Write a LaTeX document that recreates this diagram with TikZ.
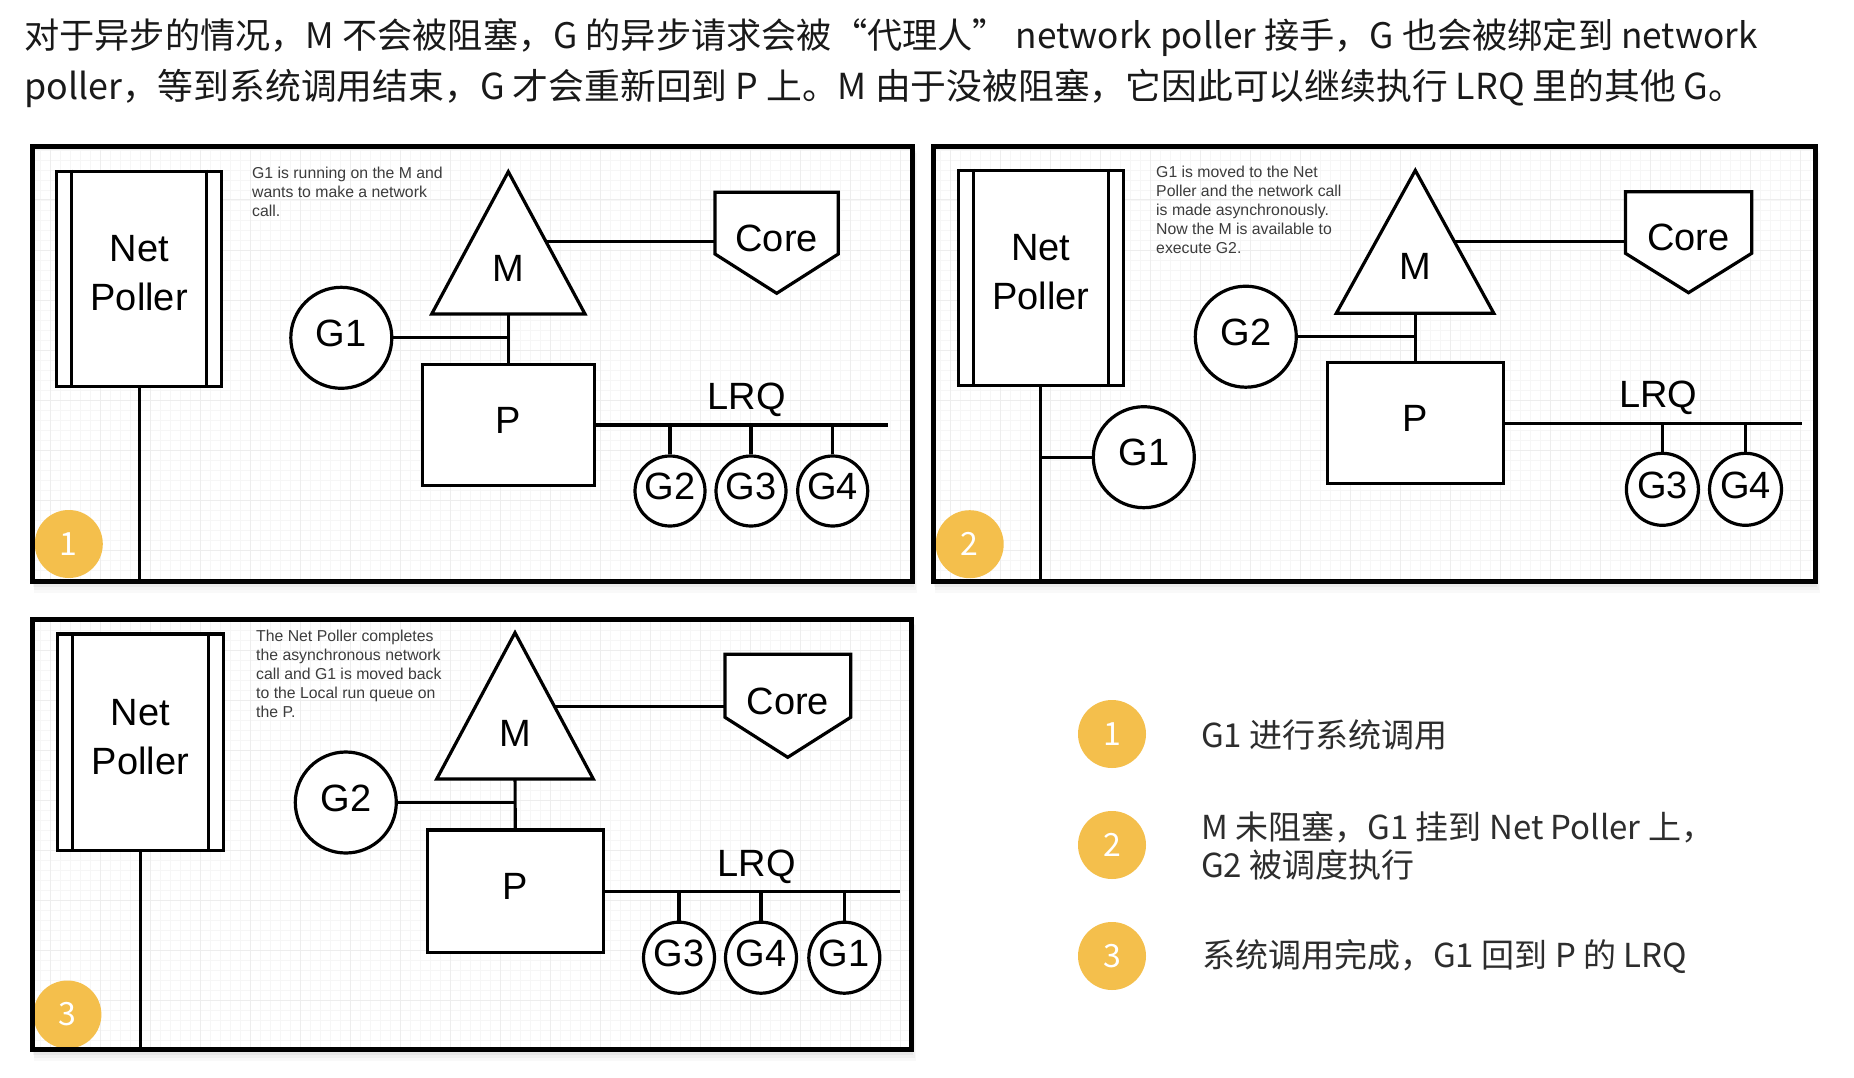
\documentclass[tikz,border=0pt]{standalone}
\usepackage{fontspec}
\setmainfont{Liberation Sans}
\newfontfamily\cjk{Noto Sans CJK SC}
\usetikzlibrary{calc}
\definecolor{badgeY}{RGB}{244,191,76}
\definecolor{annoC}{RGB}{60,60,60}
\definecolor{gridminor}{RGB}{246,246,246}
\definecolor{gridmajor}{RGB}{237,237,237}
\definecolor{topC}{RGB}{25,25,25}
\definecolor{legC}{RGB}{45,45,45}
\pgfdeclarelayer{bg}
\pgfdeclarelayer{wires}
\pgfsetlayers{bg,wires,main}
\newcommand\lblfont{\fontsize{38}{46}\selectfont}
\newcommand\npfont{\fontsize{38}{49}\selectfont}
\newcommand\annofont{\fontsize{15.8}{19}\selectfont}
\newcommand\topfontA{\cjk\fontsize{35.2}{51}\selectfont}
\newcommand\topfontB{\cjk\fontsize{35.8}{51}\selectfont}
\newcommand\legfont{\cjk\fontsize{33}{38.3}\selectfont}
\newcommand\badgefont{\cjk\fontsize{32}{32}\selectfont}
\tikzset{
  shp/.style={draw=black, line width=3.2pt, fill=white, line join=miter},
  wire/.style={draw=black, line width=3.2pt},
  gbig/.style={circle, shp, minimum size=101pt, inner sep=0pt, font=\lblfont, text depth=9pt},
  gsmall/.style={circle, shp, minimum size=70pt, inner sep=0pt, font=\lblfont, text depth=9pt},
  pbox/.style={rectangle, shp, minimum width=172pt, minimum height=121pt, inner sep=0pt, font=\lblfont, text depth=9pt},
  npbox/.style={rectangle, shp, minimum width=165pt, minimum height=215pt, inner sep=0pt},
  nptext/.style={font=\npfont, align=center, inner sep=0pt},
  lbl/.style={font=\lblfont, inner sep=0pt},
  anno/.style={font=\annofont, text=annoC, align=left, anchor=north west, inner sep=0pt},
  badgenode/.style={circle, fill=badgeY, minimum size=68pt, inner sep=0pt, text=white, font=\badgefont},
  framebox/.style={draw=black, line width=5pt},
}
\newcommand\panelframe[4]{%
  \begin{pgfonlayer}{bg}
    \foreach \s/\o in {12/0.025, 9/0.03, 6/0.04, 3/0.05} {
      \fill[black, opacity=\o] (#1+\s*0.2, #2+\s*0.5) rectangle (#3+\s*0.4, #4+\s);
    }
    \fill[white] (#1,#2) rectangle (#3,#4);
    \begin{scope}
      \clip (#1,#2) rectangle (#3,#4);
      \draw[gridminor, line width=0.9pt, step=10pt] (#1,#2) grid (#3,#4);
      \draw[gridmajor, line width=1pt, step=50pt] (#1,#2) grid (#3,#4);
    \end{scope}
  \end{pgfonlayer}}
\newcommand\npbars[1]{%
  \draw[line width=3.2pt] ([xshift=16.6pt]#1.north west) -- ([xshift=16.6pt]#1.south west);
  \draw[line width=3.2pt] ([xshift=-16.6pt]#1.north east) -- ([xshift=-16.6pt]#1.south east);}
\begin{document}
\begin{tikzpicture}[x=1pt, y=-1pt]
\useasboundingbox (0,0) rectangle (1854,1078);
\begin{pgfonlayer}{bg}
  \fill[white] (0,0) rectangle (1854,1078);
\end{pgfonlayer}

% ---------- top text ----------
\node[anchor=west, font=\topfontA, text=topC, inner sep=0pt] (H1) at (24,37.5)
  {对于异步的情况，M 不会被阻塞，G 的异步请求会被“代理人” network poller 接手，G 也会被绑定到 network};
\node[anchor=west, font=\topfontB, text=topC, inner sep=0pt] (H2) at (24,88.5)
  {poller，等到系统调用结束，G 才会重新回到 P 上。M 由于没被阻塞，它因此可以继续执行 LRQ 里的其他 G。};

% ================= PANEL 1 =================
\panelframe{32}{147}{912}{581}
\node[npbox] (NP1) at (139.2,278.7) {};
\node[nptext] (NT1) at (139.2,273) {Net\\Poller};
\npbars{NP1}
\coordinate (B1) at (139.2,581);
\node[anno] (A1) at (252,166.7) {G1 is running on the M and\\wants to make a network\\call.};
\draw[shp] (508.3,171.7) -- (585,314) -- (431.7,314) -- cycle;
\node[lbl] (M1) at (508.3,268) {M};
\draw[shp] (715,192.3) -- (838.3,192.3) -- (838.3,254) -- (776.7,293.3) -- (715,254) -- cycle;
\node[lbl] (C1) at (776.7,238.3) {Core};
\coordinate (MC1) at (508.3,241.7);
\node[gbig] (G1a) at (341.3,337.8) {G1};
\node[pbox] (P1) at (508.3,425) {P};
\node[lbl] (LRQ1) at (746.7,400) {LRQ};
\coordinate (E1) at (888.3,425.7);
\node[gsmall] (G2a) at (670,491) {G2};
\node[gsmall] (G3a) at (751,491) {G3};
\node[gsmall] (G4a) at (832.7,491) {G4};
\node[badgenode] (K1) at (68.8,544) {1};
\begin{pgfonlayer}{wires}
  \draw[wire] (NP1) -- (B1);
  \draw[wire] (MC1) -- (MC1 -| C1);
  \draw[wire] (M1) -- (P1);
  \draw[wire] (G1a) -- (G1a -| P1);
  \draw[wire] (P1) -- (P1 -| E1);
  \draw[wire] (G2a) -- (G2a |- P1);
  \draw[wire] (G3a) -- (G3a |- P1);
  \draw[wire] (G4a) -- (G4a |- P1);
\end{pgfonlayer}
\draw[framebox] (32,147) rectangle (912,581);

% ================= PANEL 2 =================
\panelframe{933}{147}{1815}{581}
\node[npbox] (NP2) at (1040.8,277.9) {};
\node[nptext] (NT2) at (1040.8,272.5) {Net\\Poller};
\npbars{NP2}
\coordinate (B2) at (1040.8,581);
\node[anno] (A2) at (1156,166) {G1 is moved to the Net\\Poller and the network call\\is made asynchronously.\\Now the M is available to\\execute G2.};
\draw[shp] (1415.3,170.4) -- (1493.8,313.3) -- (1336.3,313.3) -- cycle;
\node[lbl] (M2) at (1415.3,266.7) {M};
\draw[shp] (1625.4,191.7) -- (1751.7,191.7) -- (1751.7,253.3) -- (1688.5,292.7) -- (1625.4,253.3) -- cycle;
\node[lbl] (C2) at (1688.5,237.5) {Core};
\coordinate (MC2) at (1415.3,241.7);
\node[gbig] (G2b) at (1245.8,336.7) {G2};
\node[pbox, minimum width=176pt] (P2) at (1415.3,423.2) {P};
\node[lbl] (LRQ2) at (1658.3,398) {LRQ};
\coordinate (E2) at (1801.9,424);
\node[gsmall, minimum size=72pt] (G3b) at (1662.4,489.3) {G3};
\node[gsmall, minimum size=72pt] (G4b) at (1745.5,489.3) {G4};
\node[gbig] (G1b) at (1143.8,457.2) {G1};
\node[badgenode] (K2) at (969.7,544.2) {2};
\begin{pgfonlayer}{wires}
  \draw[wire] (NP2) -- (B2);
  \draw[wire] (G1b) -- (G1b -| NP2);
  \draw[wire] (MC2) -- (MC2 -| C2);
  \draw[wire] (M2) -- (P2);
  \draw[wire] (G2b) -- (G2b -| P2);
  \draw[wire] (P2) -- (P2 -| E2);
  \draw[wire] (G3b) -- (G3b |- P2);
  \draw[wire] (G4b) -- (G4b |- P2);
\end{pgfonlayer}
\draw[framebox] (933,147) rectangle (1815,581);

% ================= PANEL 3 =================
\panelframe{32}{619}{911}{1049}
\node[npbox, minimum width=166pt, minimum height=216.7pt] (NP3) at (140.3,742.3) {};
\node[nptext] (NT3) at (140.3,737) {Net\\Poller};
\npbars{NP3}
\coordinate (B3) at (140.3,1049);
\node[anno] (A3) at (256,629.5) {The Net Poller completes\\the asynchronous network\\call and G1 is moved back\\to the Local run queue on\\the P.};
\draw[shp] (515,632.7) -- (593.3,779) -- (436.7,779) -- cycle;
\node[lbl] (M3) at (515,733.3) {M};
\draw[shp] (725,654.3) -- (850.7,654.3) -- (850.7,717.3) -- (787.7,757.3) -- (725,717.3) -- cycle;
\node[lbl] (C3) at (787.8,701) {Core};
\coordinate (MC3) at (515,706.7);
\node[gbig] (G2c) at (345.8,802.5) {G2};
\node[pbox, minimum width=176pt, minimum height=122.7pt] (P3) at (515.3,891.3) {P};
\node[lbl] (LRQ3) at (756.7,866.5) {LRQ};
\coordinate (E3) at (900,891.7);
\node[gsmall, minimum size=71pt] (G3c) at (679,957.7) {G3};
\node[gsmall, minimum size=71pt] (G4c) at (761,957.7) {G4};
\node[gsmall, minimum size=71pt] (G1c) at (844.3,957.7) {G1};
\node[badgenode] (K3) at (67.4,1014.5) {3};
\begin{pgfonlayer}{wires}
  \draw[wire] (NP3) -- (B3);
  \draw[wire] (MC3) -- (MC3 -| C3);
  \draw[wire] (M3) -- (P3);
  \draw[wire] (G2c) -- (G2c -| P3);
  \draw[wire] (P3) -- (P3 -| E3);
  \draw[wire] (G3c) -- (G3c |- P3);
  \draw[wire] (G4c) -- (G4c |- P3);
  \draw[wire] (G1c) -- (G1c |- P3);
\end{pgfonlayer}
\draw[framebox] (32,619) rectangle (911,1049);

% ================= LEGEND =================
\node[badgenode] (L1) at (1112,734) {1};
\node[badgenode] (L2) at (1112,845) {2};
\node[badgenode] (L3) at (1112,956) {3};
\node[anchor=west, font=\legfont, text=legC, inner sep=0pt] (T1) at (1201,735) {G1 进行系统调用};
\node[anchor=west, font=\legfont, text=legC, inner sep=0pt, align=left] (T2) at (1201,846) {M 未阻塞，G1 挂到 Net Poller 上，\\G2 被调度执行};
\node[anchor=west, font=\legfont, text=legC, inner sep=0pt] (T3) at (1202,956.7) {系统调用完成，G1 回到 P 的 LRQ};
\end{tikzpicture}
\end{document}
